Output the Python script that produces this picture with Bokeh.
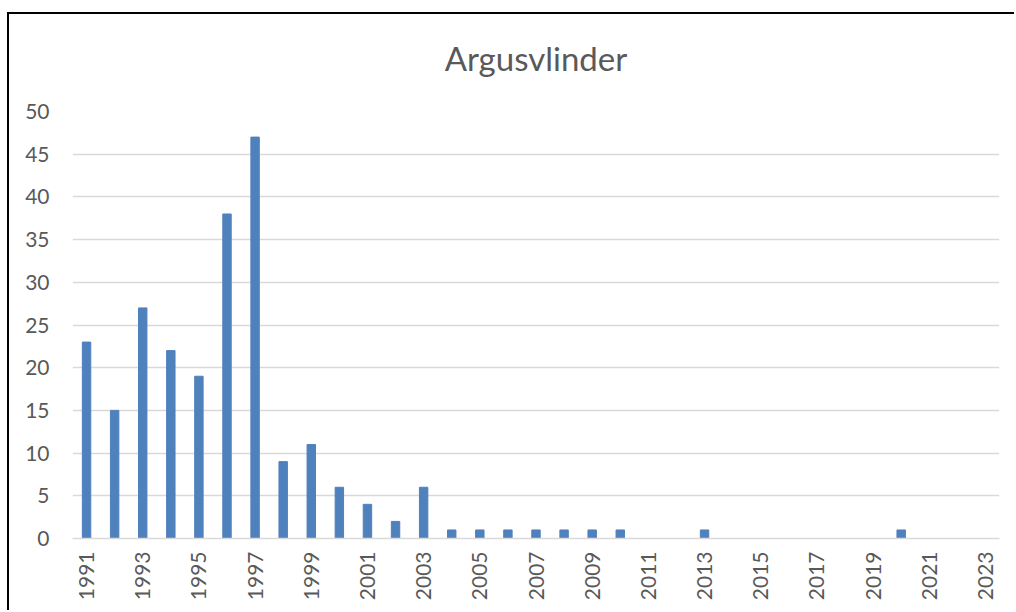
from bokeh.plotting import figure
from bokeh.models import FixedTicker, Range1d
from bokeh.embed import file_html
from bokeh.resources import INLINE
import math

years = list(range(1991, 2024))
counts = [23, 15, 27, 22, 19, 38, 47, 9, 11, 6, 4, 2, 6, 1, 1, 1, 1, 1, 1, 1,
          0, 0, 1, 0, 0, 0, 0, 0, 0, 1, 0, 0, 0]
tick_years = list(range(1991, 2024, 2))
y_ticks = list(range(0, 51, 5))
title_text = "Argusvlinder"

p = figure(width=1014, height=610, output_backend="svg", toolbar_location=None,
           x_range=Range1d(1990.5, 2023.5), y_range=Range1d(0, 50),
           min_border_left=72, min_border_right=15, min_border_top=111,
           min_border_bottom=72, title=title_text)

p.vbar(x=years, top=counts, width=0.3, color="#4F81BD")

p.title.text_font = "Lato"
p.title.text_font_size = "33px"
p.title.text_font_style = "normal"
p.title.text_color = "#595959"
p.title.align = "center"
p.title.standoff = 68

p.outline_line_color = None
p.background_fill_color = "white"
p.border_fill_color = "white"
p.border_fill_alpha = 0

p.xgrid.grid_line_color = None
p.ygrid.grid_line_color = "#D9D9D9"
p.ygrid.grid_line_width = 1.3
p.yaxis.ticker = FixedTicker(ticks=y_ticks)
p.xaxis.ticker = FixedTicker(ticks=tick_years)

for ax in (p.xaxis[0], p.yaxis[0]):
    ax.major_label_text_font = "Lato"
    ax.major_label_text_font_size = "21px"
    ax.major_label_text_color = "#595959"
    ax.major_tick_line_color = None
    ax.minor_tick_line_color = None
    ax.major_tick_out = 0
    ax.major_tick_in = 0

p.yaxis.axis_line_color = None
p.yaxis.major_label_standoff = 23
p.xaxis.axis_line_color = "#D9D9D9"
p.xaxis.axis_line_width = 1.3
p.xaxis.major_label_orientation = math.pi / 2
p.xaxis.major_label_standoff = 13

p.styles = {
    "background-color": "white",
    "background-image": "linear-gradient(#000,#000), linear-gradient(#000,#000)",
    "background-size": "100% 2px, 2px 100%",
    "background-position": "7px 12px, 7px 12px",
    "background-repeat": "no-repeat",
}

open("out.html", "w").write(file_html(p, INLINE))
